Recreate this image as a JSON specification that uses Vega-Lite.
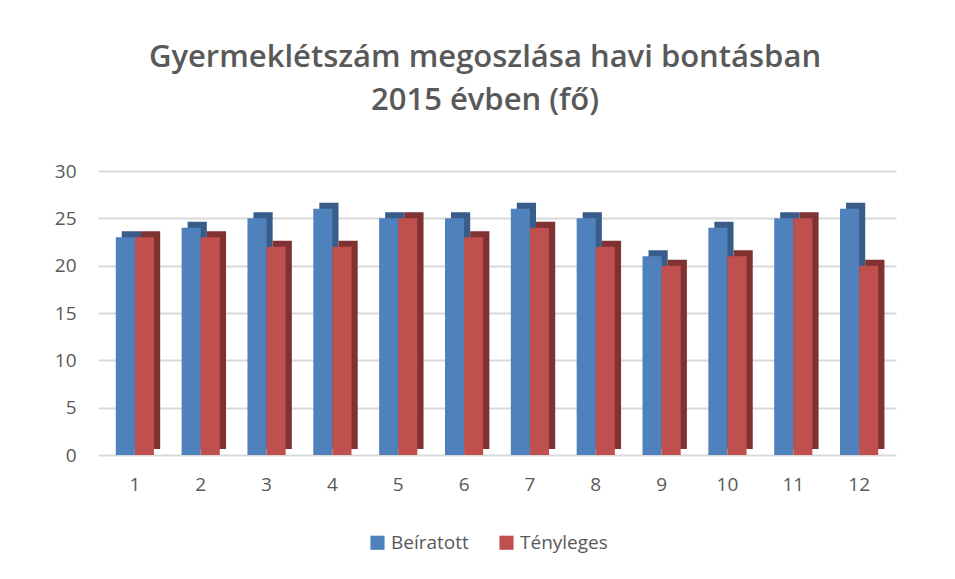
{
  "$schema": "https://vega.github.io/schema/vega-lite/v6.json",
  "width": 798,
  "height": 284,
  "autosize": {"type": "none"},
  "padding": {"left": 98, "top": 171, "right": 57, "bottom": 124},
  "background": "white",
  "title": {
    "text": ["Gyermeklétszám megoszlása havi bontásban", "2015 évben (fő)"],
    "font": "Open Sans",
    "fontSize": 31,
    "fontWeight": 600,
    "color": "#595959",
    "lineHeight": 43,
    "anchor": "middle",
    "offset": 45,
    "dx": -12
  },
  "data": {
    "values": [
      {"honap": "1", "sorozat": "Beíratott", "ertek": 23},
      {"honap": "2", "sorozat": "Beíratott", "ertek": 24},
      {"honap": "3", "sorozat": "Beíratott", "ertek": 25},
      {"honap": "4", "sorozat": "Beíratott", "ertek": 26},
      {"honap": "5", "sorozat": "Beíratott", "ertek": 25},
      {"honap": "6", "sorozat": "Beíratott", "ertek": 25},
      {"honap": "7", "sorozat": "Beíratott", "ertek": 26},
      {"honap": "8", "sorozat": "Beíratott", "ertek": 25},
      {"honap": "9", "sorozat": "Beíratott", "ertek": 21},
      {"honap": "10", "sorozat": "Beíratott", "ertek": 24},
      {"honap": "11", "sorozat": "Beíratott", "ertek": 25},
      {"honap": "12", "sorozat": "Beíratott", "ertek": 26},
      {"honap": "1", "sorozat": "Tényleges", "ertek": 23},
      {"honap": "2", "sorozat": "Tényleges", "ertek": 23},
      {"honap": "3", "sorozat": "Tényleges", "ertek": 22},
      {"honap": "4", "sorozat": "Tényleges", "ertek": 22},
      {"honap": "5", "sorozat": "Tényleges", "ertek": 25},
      {"honap": "6", "sorozat": "Tényleges", "ertek": 23},
      {"honap": "7", "sorozat": "Tényleges", "ertek": 24},
      {"honap": "8", "sorozat": "Tényleges", "ertek": 22},
      {"honap": "9", "sorozat": "Tényleges", "ertek": 20},
      {"honap": "10", "sorozat": "Tényleges", "ertek": 21},
      {"honap": "11", "sorozat": "Tényleges", "ertek": 25},
      {"honap": "12", "sorozat": "Tényleges", "ertek": 20}
    ]
  },
  "encoding": {
    "x": {
      "field": "honap",
      "type": "ordinal",
      "sort": null,
      "scale": {"paddingInner": 0.42, "paddingOuter": 0.27},
      "axis": {
        "title": null,
        "labelAngle": 0,
        "domain": false,
        "ticks": false,
        "labelFont": "Open Sans",
        "labelFontSize": 19,
        "labelColor": "#595959",
        "labelPadding": 20
      }
    },
    "y": {
      "field": "ertek",
      "type": "quantitative",
      "scale": {"domain": [0, 30]},
      "axis": {
        "title": null,
        "values": [0, 5, 10, 15, 20, 25, 30],
        "domain": false,
        "ticks": false,
        "gridColor": "#d9d9d9",
        "gridWidth": 2,
        "labelFont": "Open Sans",
        "labelFontSize": 19,
        "labelColor": "#595959",
        "labelPadding": 22
      }
    }
  },
  "layer": [
    {
      "mark": {"type": "bar", "yOffset": -6},
      "encoding": {
        "xOffset": {"field": "sorozat", "type": "nominal", "sort": ["Beíratott", "Tényleges"], "scale": {"paddingInner": 0, "range": [6, 44.4]}},
        "color": {
          "field": "sorozat",
          "type": "nominal",
          "scale": {"domain": ["Beíratott", "Tényleges"], "range": ["#385d8a", "#7f3231"]},
          "legend": null
        }
      }
    },
    {
      "mark": {"type": "bar"},
      "encoding": {
        "xOffset": {"field": "sorozat", "type": "nominal", "sort": ["Beíratott", "Tényleges"], "scale": {"paddingInner": 0}},
        "color": {
          "field": "sorozat",
          "type": "nominal",
          "scale": {"domain": ["Beíratott", "Tényleges"], "range": ["#4f81bd", "#c0504d"]},
          "legend": {
            "title": null,
            "orient": "none",
            "legendX": 270,
            "legendY": 362,
            "direction": "horizontal",
            "symbolType": "square",
            "symbolSize": 200,
            "symbolStrokeWidth": 0,
            "labelFont": "Open Sans",
            "labelFontSize": 19,
            "labelColor": "#595959",
            "columnPadding": 28
          }
        }
      }
    }
  ],
  "resolve": {"scale": {"color": "independent", "xOffset": "independent"}},
  "config": {"view": {"stroke": null}}
}
